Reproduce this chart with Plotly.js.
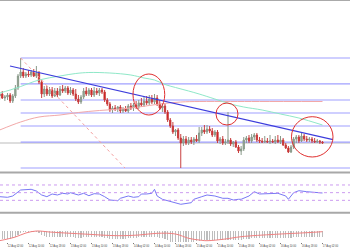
<!DOCTYPE html>
<html><head><meta charset="utf-8">
<script src="https://cdn.plot.ly/plotly-3.0.1.min.js"></script>
<style>html,body{margin:0;padding:0;background:#fff;}#chart{width:350px;height:250px;}</style>
</head><body><div id="chart"></div>
<script>
// hourly bars starting 11 Aug 2020 23:00
const barStart = Date.UTC(2020, 7, 11, 23, 0);
const barCount = 124;

const open = [
1.3104,1.3106,1.3102,1.3103,1.3105,1.3099,1.3104,1.3112,1.3124,1.3128,
1.3124,1.3126,1.3125,1.3128,1.3124,1.3127,1.3118,1.3106,1.3111,1.3106,
1.3110,1.3104,1.3109,1.3105,1.3111,1.3109,1.3112,1.3107,1.3110,1.3106,
1.3101,1.3098,1.3103,1.3109,1.3106,1.3110,1.3105,1.3109,1.3107,1.3110,
1.3108,1.3100,1.3096,1.3090,1.3092,1.3091,1.3093,1.3089,1.3091,1.3089,
1.3094,1.3092,1.3095,1.3093,1.3097,1.3095,1.3099,1.3097,1.3101,1.3098,
1.3102,1.3096,1.3092,1.3094,1.3088,1.3080,1.3074,1.3068,1.3070,1.3062,
1.3057,1.3061,1.3057,1.3060,1.3058,1.3061,1.3059,1.3067,1.3070,1.3068,
1.3071,1.3069,1.3065,1.3068,1.3059,1.3061,1.3057,1.3058,1.3060,1.3056,
1.3058,1.3053,1.3049,1.3051,1.3060,1.3062,1.3059,1.3063,1.3065,1.3060,
1.3059,1.3058,1.3059,1.3058,1.3059,1.3058,1.3060,1.3058,1.3060,1.3055,
1.3052,1.3048,1.3053,1.3061,1.3063,1.3059,1.3064,1.3061,1.3060,1.3061,
1.3059,1.3058,1.3059,1.3058];
const high = [
1.3107,1.3109,1.3105,1.3107,1.3107,1.3106,1.3115,1.3126,1.3142,1.3132,
1.3128,1.3130,1.3130,1.3131,1.3134,1.3129,1.3120,1.3114,1.3114,1.3113,
1.3113,1.3112,1.3112,1.3114,1.3115,1.3114,1.3114,1.3113,1.3112,1.3111,
1.3105,1.3105,1.3112,1.3113,1.3112,1.3112,1.3113,1.3112,1.3112,1.3112,
1.3110,1.3102,1.3098,1.3094,1.3095,1.3094,1.3095,1.3093,1.3094,1.3096,
1.3097,1.3097,1.3099,1.3100,1.3102,1.3104,1.3104,1.3105,1.3105,1.3106,
1.3105,1.3100,1.3096,1.3096,1.3090,1.3082,1.3078,1.3071,1.3072,1.3066,
1.3064,1.3064,1.3063,1.3063,1.3063,1.3065,1.3073,1.3073,1.3075,1.3075,
1.3074,1.3072,1.3070,1.3070,1.3063,1.3064,1.3061,1.3088,1.3062,1.3059,
1.3060,1.3055,1.3054,1.3063,1.3064,1.3065,1.3066,1.3067,1.3067,1.3063,
1.3062,1.3064,1.3062,1.3065,1.3061,1.3064,1.3065,1.3064,1.3062,1.3057,
1.3054,1.3055,1.3063,1.3065,1.3065,1.3067,1.3066,1.3064,1.3063,1.3063,
1.3062,1.3061,1.3060,1.3059];
const low = [
1.3100,1.3101,1.3099,1.3100,1.3097,1.3097,1.3102,1.3110,1.3122,1.3122,
1.3122,1.3123,1.3123,1.3123,1.3122,1.3116,1.3102,1.3103,1.3104,1.3104,
1.3102,1.3103,1.3103,1.3104,1.3107,1.3107,1.3105,1.3105,1.3104,1.3099,
1.3096,1.3096,1.3101,1.3104,1.3104,1.3103,1.3103,1.3105,1.3104,1.3106,
1.3098,1.3094,1.3088,1.3087,1.3089,1.3088,1.3087,1.3087,1.3088,1.3087,
1.3090,1.3089,1.3091,1.3091,1.3093,1.3093,1.3095,1.3095,1.3096,1.3096,
1.3094,1.3090,1.3088,1.3086,1.3078,1.3072,1.3066,1.3064,1.3060,1.3032,
1.3054,1.3055,1.3055,1.3056,1.3055,1.3058,1.3057,1.3064,1.3066,1.3066,
1.3067,1.3063,1.3063,1.3057,1.3056,1.3055,1.3055,1.3056,1.3054,1.3053,
1.3052,1.3047,1.3045,1.3049,1.3057,1.3057,1.3057,1.3060,1.3058,1.3057,
1.3057,1.3057,1.3057,1.3056,1.3057,1.3056,1.3057,1.3056,1.3054,1.3051,
1.3047,1.3047,1.3051,1.3057,1.3057,1.3058,1.3059,1.3058,1.3058,1.3057,
1.3057,1.3057,1.3056,1.3056];
const close = [
1.3106,1.3102,1.3103,1.3105,1.3099,1.3104,1.3112,1.3124,1.3128,1.3124,
1.3126,1.3125,1.3128,1.3124,1.3127,1.3118,1.3106,1.3111,1.3106,1.3110,
1.3104,1.3109,1.3105,1.3111,1.3109,1.3112,1.3107,1.3110,1.3106,1.3101,
1.3098,1.3103,1.3109,1.3106,1.3110,1.3105,1.3109,1.3107,1.3110,1.3108,
1.3100,1.3096,1.3090,1.3092,1.3091,1.3093,1.3089,1.3091,1.3089,1.3094,
1.3092,1.3095,1.3093,1.3097,1.3095,1.3099,1.3097,1.3101,1.3098,1.3102,
1.3096,1.3092,1.3094,1.3088,1.3080,1.3074,1.3068,1.3070,1.3062,1.3057,
1.3061,1.3057,1.3060,1.3058,1.3061,1.3059,1.3067,1.3070,1.3068,1.3071,
1.3069,1.3065,1.3068,1.3059,1.3061,1.3057,1.3058,1.3060,1.3056,1.3058,
1.3053,1.3049,1.3051,1.3060,1.3062,1.3059,1.3063,1.3065,1.3060,1.3059,
1.3058,1.3059,1.3058,1.3059,1.3058,1.3060,1.3058,1.3060,1.3055,1.3052,
1.3048,1.3053,1.3061,1.3063,1.3059,1.3064,1.3061,1.3060,1.3061,1.3059,
1.3058,1.3059,1.3058,1.3057];

// moving averages read at sampled bars
const maFastBars = [0,4,8,15,23,29,34,42,50,55,59,63,67,72,76,82,88,93,100,107,114,123];
const maFast = [1.3107,1.3110,1.31135,1.3120,1.3124,1.31265,1.31275,1.3127,1.3125,1.3122,1.3120,1.31155,1.31125,1.3109,1.3106,1.3101,1.3096,1.3093,1.3090,1.3086,1.3082,1.3075];
const maSlowBars = [0,8,15,23,30,38,46,53,61,69,76,88,99,123];
const maSlow = [1.3070,1.3078,1.3083,1.3085,1.30875,1.30895,1.3091,1.3093,1.3096,1.3098,1.30985,1.30985,1.30985,1.30985];

// RSI
const rsiBars = [0,3,5,8,12,14,16,18,20,22,24,26,27,30,32,34,36,38,40,42,45,46,49,51,53,54,56,58,59,60,62,65,67,69,73,74,77,79,82,85,87,89,91,92,95,97,99,101,104,106,109,110,112,114,117,119,121,123];
const rsi = [39.5,37.9,41.3,56.9,58.7,54.3,43.9,39.5,46.5,43.9,48.3,46.5,49.9,43.9,48.3,42.1,47.3,46.5,39.5,30.9,29.0,35.3,41.3,37.9,39.5,46.5,46.5,48.3,58.7,41.3,32.7,26.4,22.3,19.7,23.8,32.7,39.5,43.9,41.3,35.3,35.3,30.9,32.7,32.7,41.3,52.5,46.5,46.5,46.5,48.3,41.3,32.7,49.9,55.1,52.5,51.7,49.9,49.1];
const rsiLevels = [30, 50, 70];

// MACD histogram (one per bar) and signal
const macdHist = [
-0.0008,-0.0008,-0.0008,-0.00078,-0.0008,-0.0007,-0.00055,-0.00035,-0.0002,-0.0001,
-0.0001,-0.00012,-0.0001,-0.0001,-0.00012,-0.0002,-0.0004,-0.0005,-0.0006,-0.0006,
-0.00062,-0.0006,-0.0006,-0.00058,-0.0006,-0.0006,-0.00062,-0.0006,-0.0006,-0.0007,
-0.0007,-0.00072,-0.0006,-0.0006,-0.00058,-0.0006,-0.0006,-0.00062,-0.0006,-0.0006,
-0.0007,-0.0007,-0.0008,-0.0008,-0.00082,-0.0008,-0.0008,-0.0008,-0.0008,-0.0007,
-0.0007,-0.0007,-0.0007,-0.0006,-0.0006,-0.0006,-0.00058,-0.0006,-0.0006,-0.0006,
-0.0006,-0.0007,-0.0007,-0.0008,-0.0009,-0.00105,-0.00105,-0.00105,-0.00105,-0.00105,
-0.00105,-0.00105,-0.00105,-0.00105,-0.00105,-0.001,-0.001,-0.0009,-0.0009,-0.0009,
-0.0009,-0.0009,-0.0009,-0.0009,-0.0009,-0.00085,-0.00085,-0.00085,-0.00085,-0.00085,
-0.00085,-0.00085,-0.00085,-0.00075,-0.00075,-0.00075,-0.00065,-0.00065,-0.00065,-0.00065,
-0.00065,-0.00065,-0.00065,-0.00065,-0.00065,-0.00065,-0.00065,-0.00065,-0.00065,-0.0007,
-0.0007,-0.0007,-0.0006,-0.0006,-0.0006,-0.0006,-0.0006,-0.0006,-0.0006,-0.0006,
-0.0006,-0.0006,-0.0006,-0.0006];
const signalBars = [0,6,10,14,19,23,32,45,53,60,67,72,76,79,86,92,105,117,123];
const signal = [-0.00097,-0.0006,-0.0002,0,-0.0001,-0.00017,-0.0003,-0.00047,-0.0004,-0.00023,-0.0003,-0.00073,-0.0009,-0.00097,-0.0008,-0.00057,-0.00033,-0.00017,-0.00007];

// drawing objects
const fiboRatios = [0, 0.236, 0.382, 0.5, 0.618, 0.764, 1];
const fiboEndTime = '2020-08-13 22:45';
const trendLine = {t0:'2020-08-12 02:57', p0:1.3134, t1:'2020-08-17 06:00', p1:1.30604};
const circles = [
  {t0:'2020-08-14 01:48', t1:'2020-08-14 13:54', p0:1.3085, p1:1.3126},
  {t0:'2020-08-15 09:26', t1:'2020-08-15 17:48', p0:1.3075, p1:1.3097},
  {t0:'2020-08-16 14:11', t1:'2020-08-17 06:00', p0:1.3043, p1:1.30833}
];

// x tick labels (first one is the chart's start date)
const tickVals = ['2020-08-11 22:00','2020-08-12 02:00','2020-08-12 10:00','2020-08-12 18:00','2020-08-13 02:00','2020-08-13 10:00','2020-08-13 18:00','2020-08-14 02:00','2020-08-14 10:00','2020-08-14 18:00','2020-08-15 02:00','2020-08-15 10:00','2020-08-15 18:00','2020-08-16 02:00','2020-08-16 10:00','2020-08-16 18:00','2020-08-17 02:00'];
const tickText = ['11 Aug 2020','12 Aug 02:00','12 Aug 10:00','12 Aug 18:00','13 Aug 02:00','13 Aug 10:00','13 Aug 18:00','14 Aug 02:00','14 Aug 10:00','14 Aug 18:00','15 Aug 02:00','15 Aug 10:00','15 Aug 18:00','16 Aug 02:00','16 Aug 10:00','16 Aug 18:00','17 Aug 02:00'];

function fmt(ms){ return new Date(ms).toISOString().slice(0,16).replace('T',' '); }
const times = [];
for (let k = 0; k < barCount; k++) times.push(fmt(barStart + k*3600000));
const at = idx => idx.map(i => times[i]);

const xRange = ['2020-08-11 23:08:34', '2020-08-17 12:28:34'];

const hiIdx = high.indexOf(Math.max(...high));
const loVal = Math.min(...low);
const hiVal = high[hiIdx];

const traces = [
  {type:'scatter', mode:'lines', x:at(maSlowBars), y:maSlow, line:{color:'#f2a8a8', width:1, shape:'spline'}, xaxis:'x', yaxis:'y', hoverinfo:'skip'},
  {type:'scatter', mode:'lines', x:at(maFastBars), y:maFast, line:{color:'#8fe8c8', width:1, shape:'spline'}, xaxis:'x', yaxis:'y', hoverinfo:'skip'},
  {type:'candlestick', x:times, open:open, high:high, low:low, close:close,
   increasing:{line:{color:'#8a9a8a', width:1}, fillcolor:'#93aa93'},
   decreasing:{line:{color:'#c84040', width:1}, fillcolor:'#d40000'},
   xaxis:'x', yaxis:'y', hoverinfo:'skip'},
  {type:'scatter', mode:'lines', x:at(rsiBars), y:rsi, line:{color:'#7878f4', width:1}, xaxis:'x', yaxis:'y2', hoverinfo:'skip'},
  {type:'bar', x:times, y:macdHist, width:0.4*3600000, marker:{color:'#bdbdbd', line:{width:0}}, xaxis:'x', yaxis:'y3', hoverinfo:'skip'},
  {type:'scatter', mode:'lines', x:at(signalBars), y:signal, line:{color:'#f08080', width:1, shape:'spline'}, xaxis:'x', yaxis:'y3', hoverinfo:'skip'}
];

const shapes = [];
shapes.push({type:'line', xref:'paper', yref:'paper', x0:0, x1:1, y0:0.998, y1:0.998, line:{color:'#aaaaaa', width:1}});
shapes.push({type:'rect', xref:'paper', yref:'paper', x0:0, x1:1, y0:1-173.5/250, y1:1-171.5/250, fillcolor:'#a8a8a8', line:{width:0}});
shapes.push({type:'rect', xref:'paper', yref:'paper', x0:0, x1:1, y0:1-213.7/250, y1:1-211.7/250, fillcolor:'#a8a8a8', line:{width:0}});
// bid line at last close
shapes.push({type:'line', xref:'paper', yref:'y', x0:0, x1:1, y0:close[close.length-1], y1:close[close.length-1], line:{color:'#bbbbbb', width:1}, layer:'below'});
// fibonacci levels
fiboRatios.forEach(r => {
  const lv = hiVal - r*(hiVal - loVal);
  shapes.push({type:'line', xref:'x', yref:'y', x0:times[hiIdx], x1:'2020-08-18 00:00', y0:lv, y1:lv, line:{color:'#a0a0ff', width:1.2}, layer:'below'});
});
shapes.push({type:'line', xref:'x', yref:'y', x0:times[hiIdx], y0:hiVal, x1:fiboEndTime, y1:loVal, line:{color:'#f4a0a0', width:1, dash:'dot'}});
shapes.push({type:'line', xref:'x', yref:'y', x0:trendLine.t0, y0:trendLine.p0, x1:trendLine.t1, y1:trendLine.p1, line:{color:'#3c3cdc', width:1.2}});
circles.forEach(c => shapes.push({type:'circle', xref:'x', yref:'y', x0:c.t0, x1:c.t1, y0:c.p0, y1:c.p1, line:{color:'#e03030', width:1}}));
rsiLevels.forEach(v => shapes.push({type:'line', xref:'paper', yref:'y2', x0:0, x1:1, y0:v, y1:v, line:{color:'#cc9cf0', width:1, dash:'dot'}}));

const tickFont = {size:2.6, color:'#444', family:'Liberation Sans'};
// the first date label sits at the left edge, partly cut off as in the original
const annotations = [{xref:'x', yref:'paper', x:tickVals[0], y:1-246/250, xanchor:'left', yanchor:'middle', xshift:0,
  text:tickText[0], showarrow:false, font:tickFont}];

const hidden = {showgrid:false, zeroline:false, showline:false, showticklabels:false, ticks:'', fixedrange:true};
const layout = {
  width:350, height:250,
  margin:{l:0, r:0, t:0, b:0, pad:0},
  paper_bgcolor:'#ffffff', plot_bgcolor:'#ffffff',
  showlegend:false,
  bargap:0,
  shapes:shapes,
  annotations:annotations,
  xaxis:{type:'date', range:xRange, anchor:'y3', showgrid:false, zeroline:false, showline:false,
    tickmode:'array', tickvals:tickVals.slice(1), ticktext:tickText.slice(1), ticks:'outside', ticklen:1, tickwidth:1, tickcolor:'#777',
    tickangle:0, tickfont:tickFont, ticklabelshift:8, ticklabelstandoff:0,
    rangeslider:{visible:false}, fixedrange:true, automargin:false},
  yaxis:Object.assign({domain:[0.316, 0.996], range:[1.3029, 1.3199]}, hidden),
  yaxis2:Object.assign({domain:[1-211.85/250, 1-173.45/250], range:[0, 100]}, hidden),
  yaxis3:Object.assign({domain:[0.032, 0.144], range:[-0.0011, 0.0017]}, hidden)
};

Plotly.newPlot('chart', traces, layout, {staticPlot:true, displayModeBar:false});
</script>
</body></html>
